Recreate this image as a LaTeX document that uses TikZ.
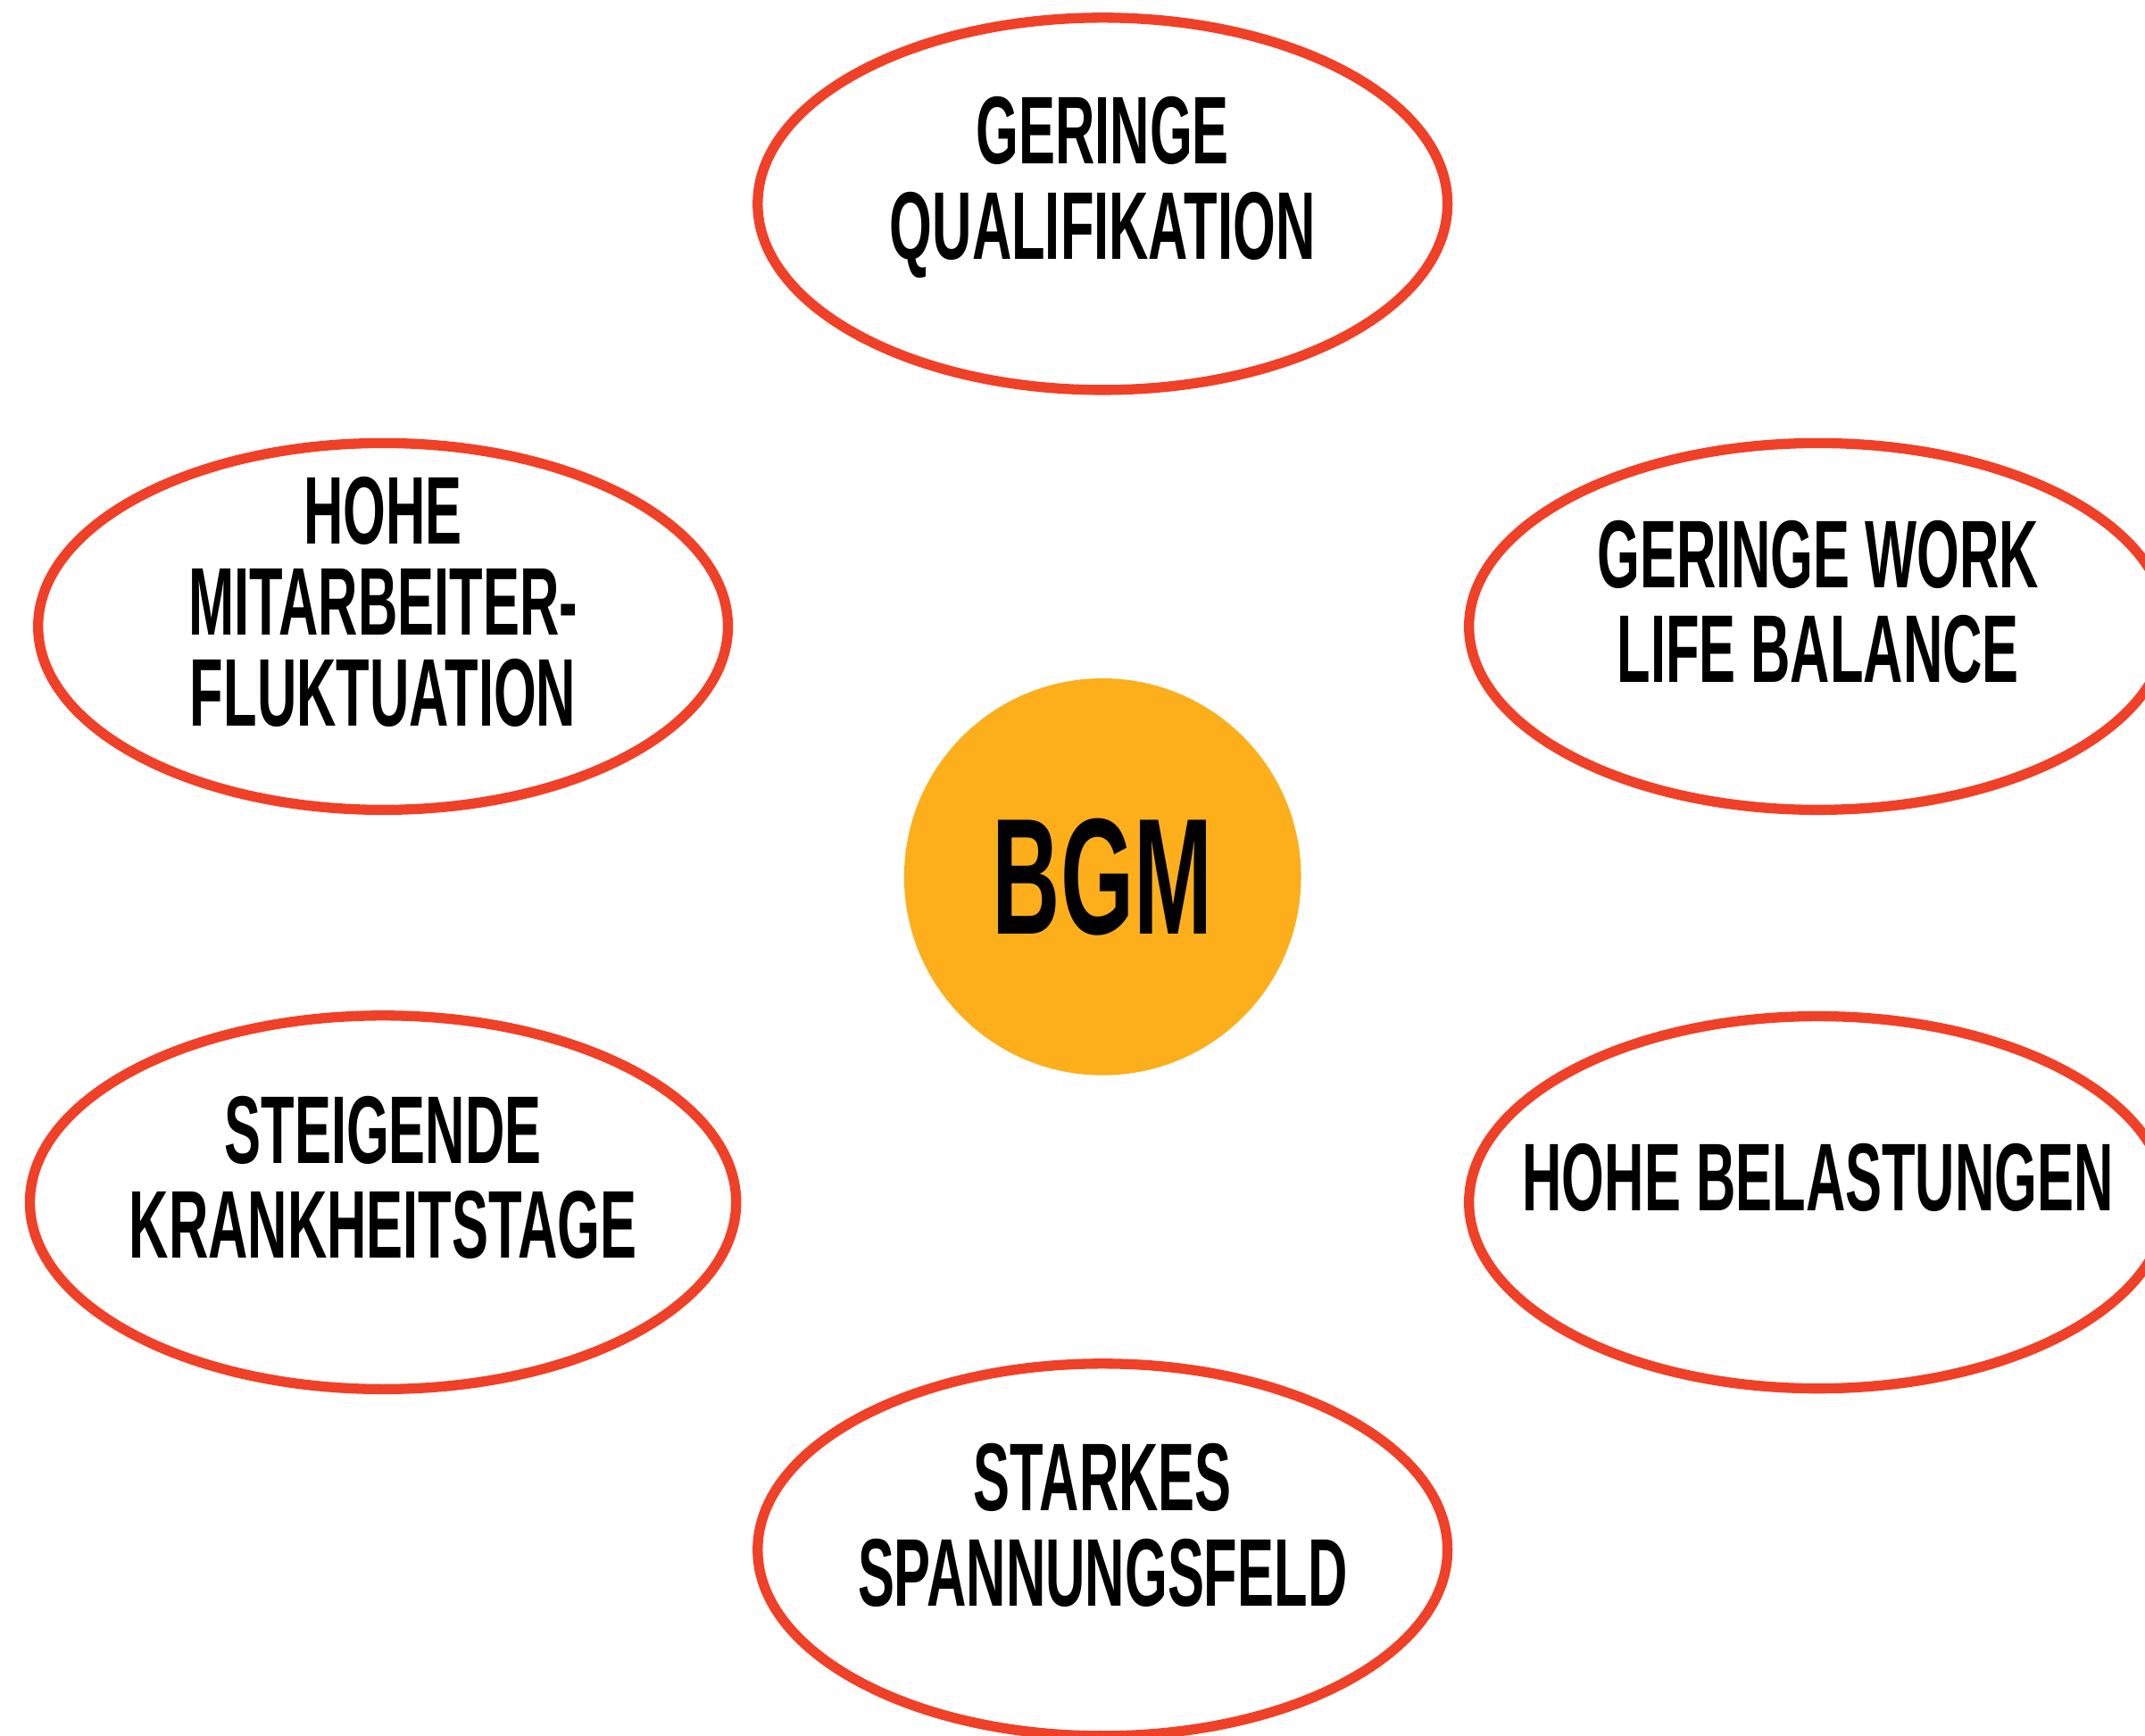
\documentclass[tikz,border=0pt]{standalone}
\usepackage{fontspec}
\newfontfamily\bgmfont{Liberation Sans}[FakeStretch=0.57]
\usetikzlibrary{shapes.geometric}
\definecolor{bgmred}{HTML}{F04027}
\definecolor{bgmorange}{HTML}{FCAF1A}

\begin{document}
\begin{tikzpicture}[x=0.01cm,y=-0.01cm,
    cause/.style={ellipse,draw=bgmred,line width=2.1pt,minimum width=5.04cm,minimum height=2.68cm,inner sep=0pt},
    causetext/.style={font=\bgmfont\bfseries\fontsize{20}{19.8}\selectfont,align=center,inner sep=0pt},
    core/.style={circle,fill=bgmorange,minimum size=2.9cm,inner sep=0pt,font=\bgmfont\bfseries\fontsize{34.4}{34}\selectfont}]
    \useasboundingbox (0,0) rectangle (1568,1269);

    % centre
    \node[core] (bgm) at (806,641) {BGM};

    % ellipses
    \node[cause, minimum height=2.72cm] (qual)  at (806,149)  {};
    \node[cause] (fluk)  at (280,458)  {};
    \node[cause, minimum width=5.1cm] (work)  at (1329,458) {};
    \node[cause, minimum width=5.16cm, minimum height=2.73cm] (krank) at (280,879)  {};
    \node[cause, minimum width=5.1cm, minimum height=2.72cm] (last)  at (1329,879) {};
    \node[cause, minimum height=2.72cm] (spann) at (806,1133) {};

    % texts
    \node[causetext] (qualtext)  at ([yshift=0.12cm]qual.center)  {GERINGE\\QUALIFIKATION};
    \node[causetext, font=\bgmfont\bfseries\fontsize{20}{19}\selectfont] (fluktext) at ([yshift=0.18cm]fluk.center) {HOHE\\MITARBEITER-\\FLUKTUATION};
    \node[causetext] (worktext)  at ([yshift=0.18cm]work.center)  {GERINGE WORK\\LIFE BALANCE};
    \node[causetext] (kranktext) at ([yshift=0.18cm]krank.center) {STEIGENDE\\KRANKHEITSTAGE};
    \node[causetext] (lasttext)  at ([yshift=0.18cm]last.center)  {HOHE BELASTUNGEN};
    \node[causetext] (spanntext) at ([yshift=0.18cm]spann.center) {STARKES\\SPANNUNGSFELD};
\end{tikzpicture}
\end{document}
